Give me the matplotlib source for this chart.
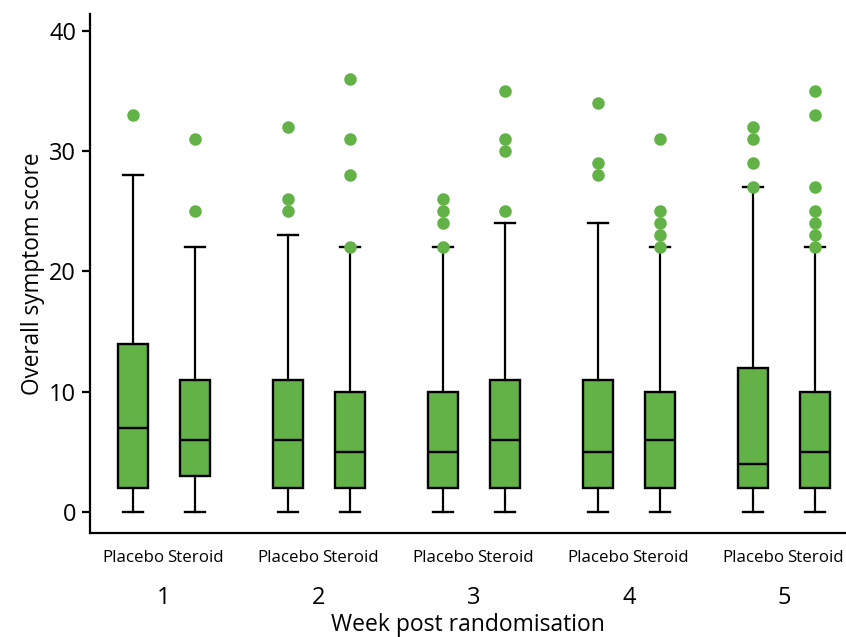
import matplotlib
matplotlib.use("Agg")
import matplotlib.pyplot as plt
from matplotlib.transforms import blended_transform_factory

plt.rcParams['font.family'] = ['Open Sans', 'DejaVu Sans']

weeks = ["1", "2", "3", "4", "5"]
groups = ["Placebo", "Steroid"]

# order: W1 Placebo, W1 Steroid, W2 Placebo, W2 Steroid, ...
whislo = [0, 0, 0, 0, 0, 0, 0, 0, 0, 0]
q1 = [2, 3, 2, 2, 2, 2, 2, 2, 2, 2]
med = [7, 6, 6, 5, 5, 6, 5, 6, 4, 5]
q3 = [14, 11, 11, 10, 10, 11, 11, 10, 12, 10]
whishi = [28, 22, 23, 22, 22, 24, 24, 22, 27, 22]
outliers = [
    [33],
    [25, 31],
    [25, 26, 32],
    [22, 28, 31, 36],
    [22, 24, 25, 26],
    [25, 30, 31, 35],
    [28, 29, 34],
    [22, 23, 24, 25, 31],
    [27, 29, 31, 32],
    [22, 23, 24, 25, 27, 33, 35],
]

green = '#62b247'

fig = plt.figure(figsize=(8.46, 6.37), dpi=100)
ax = fig.add_axes([0.1064, 0.163, 0.8936, 0.815])

stats = []
positions = []
labels = []
for i in range(len(q1)):
    w = i // 2
    g = i % 2
    stats.append(dict(whislo=whislo[i], q1=q1[i], med=med[i], q3=q3[i],
                      whishi=whishi[i], fliers=outliers[i]))
    positions.append(w + 1 + (-0.2 if g == 0 else 0.2))
    labels.append(groups[g])

ax.bxp(stats, positions=positions, widths=0.19, patch_artist=True,
       showfliers=True,
       boxprops=dict(facecolor=green, edgecolor='black', linewidth=1.7),
       medianprops=dict(color='black', linewidth=1.7),
       whiskerprops=dict(color='black', linewidth=1.6),
       capprops=dict(color='black', linewidth=1.7),
       capwidths=0.125,
       flierprops=dict(marker='o', markerfacecolor=green, markeredgecolor=green,
                       markersize=8, linestyle='none'))

ax.set_xlim(0.523, 5.4)
ax.set_ylim(-1.75, 41.4)
ax.set_yticks([0, 10, 20, 30, 40])
ax.tick_params(axis='y', labelsize=17, length=6, width=1.6, direction='out', pad=4)
ax.set_xticks(positions)
ax.set_xticklabels(labels, fontsize=12.2)
ax.tick_params(axis='x', length=0, pad=12)

for s in ['top', 'right']:
    ax.spines[s].set_visible(False)
ax.spines['left'].set_linewidth(1.6)
ax.spines['bottom'].set_linewidth(1.6)

trans = blended_transform_factory(ax.transData, ax.transAxes)
for w, lab in enumerate(weeks):
    ax.text(w + 1, -0.125, lab, transform=trans, ha='center', va='center', fontsize=17)

ax.set_xlabel("Week post randomisation", fontsize=16.5, labelpad=34)
ax.set_ylabel("Overall symptom score", fontsize=16.3, labelpad=3)

fig.savefig("out.png", dpi=100)
